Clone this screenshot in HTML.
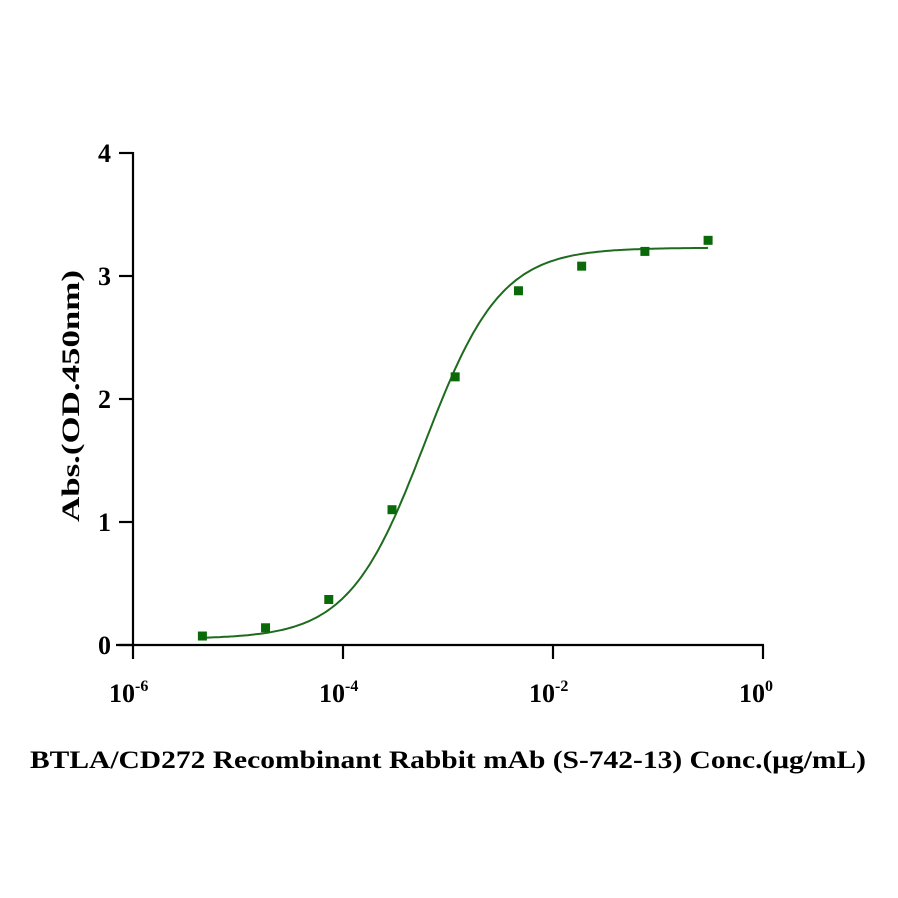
<!DOCTYPE html>
<html><head><meta charset="utf-8"><style>
html,body{margin:0;padding:0;background:#fff;}
svg{display:block;}
text{font-family:"Liberation Serif",serif;font-weight:bold;fill:#000;}
</style></head><body>
<svg id="chart" width="898" height="898" viewBox="0 0 898 898">
<g id="axes"></g>
<g id="curve"></g>
<g id="points"></g>
<text x="30" y="768" font-size="25" textLength="836" lengthAdjust="spacingAndGlyphs">BTLA/CD272 Recombinant Rabbit mAb (S-742-13) Conc.(μg/mL)</text>
<text transform="translate(79,522) rotate(-90)" font-size="25" textLength="252" lengthAdjust="spacingAndGlyphs">Abs.(OD.450nm)</text>
</svg>
<script>
const concentrations=[4.58e-6,1.83e-5,7.32e-5,2.93e-4,1.17e-3,4.69e-3,1.875e-2,7.5e-2,0.3];
const absorbance=[0.073,0.14,0.37,1.10,2.18,2.88,3.08,3.20,3.29];
const fitParams=[0.05,3.23,6.0e-4,1.2]; // bottom, top, EC50, hill
const yTicks=[0,1,2,3,4];
const xTickExps=[-6,-4,-2,0];
const NS="http://www.w3.org/2000/svg";
function X(c){return 133+(Math.log10(c)+6)*105;}
function Y(v){return 645-v*123;}
function mk(tag,attrs,parent){const e=document.createElementNS(NS,tag);for(const k in attrs)e.setAttribute(k,attrs[k]);parent.appendChild(e);return e;}
const axes=document.getElementById('axes');
let l=mk('line',{x1:116,y1:645,x2:764,y2:645,stroke:'#000','stroke-width':2.2},axes);


l=mk('line',{x1:133,y1:152,x2:133,y2:646,stroke:'#000','stroke-width':2.2},axes);


yTicks.forEach(v=>{
 const t=mk('line',{x1:119,y1:Y(v),x2:133,y2:Y(v),stroke:'#000','stroke-width':2.2},axes);
 
 
 const tx=mk('text',{x:111,y:Y(v)+9,'font-size':26,'text-anchor':'end'},axes);
 tx.textContent=v;
 
 
});
xTickExps.forEach(e=>{
 const x=X(Math.pow(10,e));
 const t=mk('line',{x1:x,y1:645,x2:x,y2:659,stroke:'#000','stroke-width':2.2},axes);
 
 
 const tx=mk('text',{x:x-24,y:702,'font-size':26},axes);
 
 
 tx.textContent='10';
 const s=mk('tspan',{dy:-11,'font-size':16},tx);
 s.textContent=(e===0?'0':String(e));
});
const fitBottom=fitParams[0],fitTop=fitParams[1],fitEC50=fitParams[2],fitHill=fitParams[3];
let d='';
const lo=Math.log10(concentrations[0]),hi=Math.log10(concentrations[concentrations.length-1]);
for(let i=0;i<=200;i++){const lc=lo+(hi-lo)*i/200;const c=Math.pow(10,lc);const v=fitBottom+(fitTop-fitBottom)/(1+Math.pow(fitEC50/c,fitHill));d+=(i?'L':'M')+X(c).toFixed(1)+','+Y(v).toFixed(1);}
const p=mk('path',{d:d,fill:'none',stroke:'#1e6b1e','stroke-width':2},document.getElementById('curve'));


const pts=document.getElementById('points');
concentrations.forEach((c,i)=>{
 const r=mk('rect',{x:X(c)-4.5,y:Y(absorbance[i])-4.5,width:9,height:9,fill:'#0a6a0a'},pts);
 
 
});
</script>
</body></html>
